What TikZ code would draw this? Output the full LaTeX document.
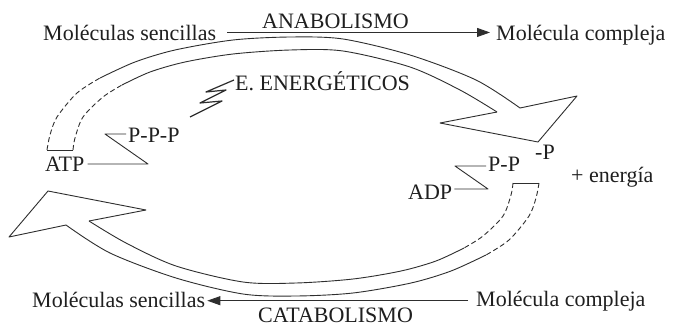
\documentclass[tikz,border=0pt]{standalone}
\usepackage{fontspec}
\setmainfont{Liberation Serif}
\usetikzlibrary{arrows.meta}
\begin{document}
\begin{tikzpicture}[x=1pt,y=-1pt,line join=round,
  lbl/.style={anchor=base west,inner sep=0pt,font=\fontsize{22}{24}\selectfont,text=black!88},
  edge/.style={line width=0.9pt,draw=black!82},
  dashedge/.style={edge,dash pattern=on 5pt off 3pt},
  tip/.style={-{Triangle[length=13pt,width=9pt]}}]
\useasboundingbox[fill=white] (0,0) rectangle (686,327);

% ring: top half and its point-symmetric bottom half
\foreach \r in {0,180}{
\begin{scope}[rotate around={\r:(293,166.5)}]
  \draw[dashedge] plot[smooth] coordinates {(47,150) (50,135) (57,117) (77,93) (100,78)};
  \draw[edge] plot[smooth] coordinates {(100,78) (135,62) (175,50) (233,40) (290,37) (343,39) (410,55) (476,80) (520,108)};
  \draw[dashedge] plot[smooth] coordinates {(73,150) (75,138) (83,117) (103,97) (122,85)};
  \draw[edge] plot[smooth] coordinates {(122,85) (150,72) (185,62) (233,54) (290,50) (343,51) (410,67) (460,90) (497,112)};
  \draw[edge] (47,150) -- (73,150);
  \draw[edge] (520,108) -- (577,96) -- (538,142) -- (440,123) -- (497,112);
\end{scope}}

% texts
\node[lbl] (ms1) at (43,40) {Moléculas sencillas};
\node[lbl] (ana) at (262,28) {ANABOLISMO};
\node[lbl] (mc1) at (496,40) {Molécula compleja};
\node[lbl] (ee) at (235,90) {E. ENERGÉTICOS};
\node[lbl] (ppp) at (128,142) {P-P-P};
\node[lbl] (atp) at (45,171) {ATP};
\node[lbl] (mp) at (535,159) {-P};
\node[lbl] (pp) at (488,171) {P-P};
\node[lbl] (adp) at (408,199) {ADP};
\node[lbl] (en) at (571,182) {+ energía};
\node[lbl] (ms2) at (32,307) {Moléculas sencillas};
\node[lbl] (mc2) at (476,306) {Molécula compleja};
\node[lbl] (cat) at (258,322) {CATABOLISMO};

% main arrows
\draw[edge,tip,shorten <=11pt,shorten >=6pt] (ms1.east) -- (ms1.east -| mc1.west);
\draw[edge,tip,shorten <=8pt,shorten >=2pt] (mc2.west) -- (mc2.west -| ms2.east);

% ATP / ADP links
\coordinate (k1) at (148,164);
\coordinate (k2) at (105,134);
\draw[edge,shorten <=3pt,shorten >=2pt] (atp.east |- k1) -- (k1) -- (k2) -- (k2 -| ppp.west);
\coordinate (k3) at (488,189);
\coordinate (k4) at (455,166);
\draw[edge,shorten <=2pt,shorten >=2pt] (adp.east |- k3) -- (k3) -- (k4) -- (k4 -| pp.west);

% energy bolt
\coordinate (b0) at (190,117);
\coordinate (b5) at (234,80);
\draw[edge,line width=1.2pt] (b0) -- (222,101) -- (200,103) -- (226,90) -- (206,92) -- (b5);
\end{tikzpicture}
\end{document}
